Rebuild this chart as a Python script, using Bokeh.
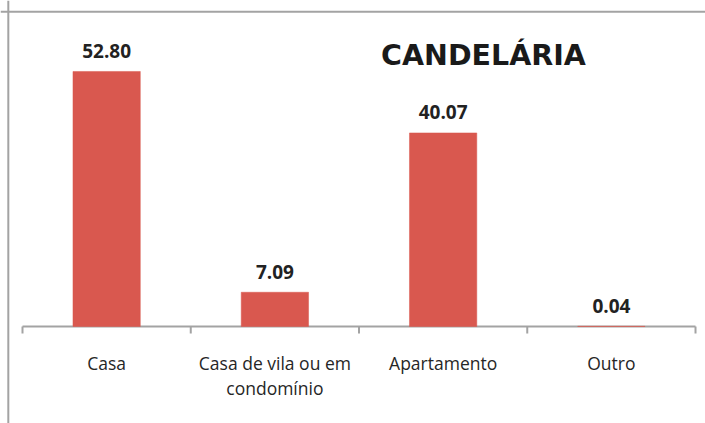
from bokeh.plotting import figure
from bokeh.models import Range1d, Span
from bokeh.core.properties import value
from bokeh.embed import file_html
from bokeh.resources import INLINE

# ---- data ----
categories = ["Casa", "Casa de vila ou em\ncondomínio", "Apartamento", "Outro"]
values = [52.80, 7.09, 40.07, 0.04]
value_labels = ["52.80", "7.09", "40.07", "0.04"]
title_text = "CANDELÁRIA"

pos = [i + 0.5 for i in range(len(categories))]
bounds = list(range(len(categories) + 1))

BAR = "#D9584F"
AXIS = "#A3A3A3"
TXT = "#222222"

p = figure(width=705, height=423, output_backend="svg", toolbar_location=None,
           x_range=Range1d(-0.1308, 4.0594), y_range=Range1d(-20.08, 67.49),
           x_axis_type=None, y_axis_type=None,
           min_border_left=0, min_border_right=0, min_border_top=0, min_border_bottom=0)
p.outline_line_color = None
p.background_fill_color = "white"
p.border_fill_color = "white"

# chart-area border (top and left visible)
p.add_layout(Span(location=-0.0844, dimension="height", line_color=AXIS, line_width=2))
p.add_layout(Span(location=65.16, dimension="width", line_color=AXIS, line_width=2))

# category axis line and boundary ticks
p.segment(x0=[bounds[0]], x1=[bounds[-1]], y0=[0], y1=[0], line_color=AXIS, line_width=2)
p.segment(x0=bounds, x1=bounds, y0=[0] * len(bounds), y1=[-1.45] * len(bounds),
          line_color=AXIS, line_width=2)

# bars
p.vbar(x=pos, top=values, bottom=0, width=0.4, fill_color=BAR, line_color=BAR, line_width=0.5)

# value labels
p.text(x=pos, y=values, text=value_labels, text_align="center", text_baseline="alphabetic",
       y_offset=-20.5, text_font=value("Open Sans"), text_font_style="bold",
       text_font_size="19px", text_color=TXT)

# category labels
p.text(x=pos, y=[0] * len(pos), text=categories, text_align="center", text_baseline="top",
       y_offset=24, text_line_height=1.05, text_font=value("Open Sans"),
       text_font_size="17.5px", text_color="#262626")

# title
p.text(x=[2.74], y=[56.1], text=[title_text], text_align="center", text_baseline="alphabetic",
       text_font=value("DejaVu Sans"), text_font_style="bold", text_font_size="28.5px",
       text_color="#1a1a1a")

open("out.html", "w").write(file_html(p, INLINE))
